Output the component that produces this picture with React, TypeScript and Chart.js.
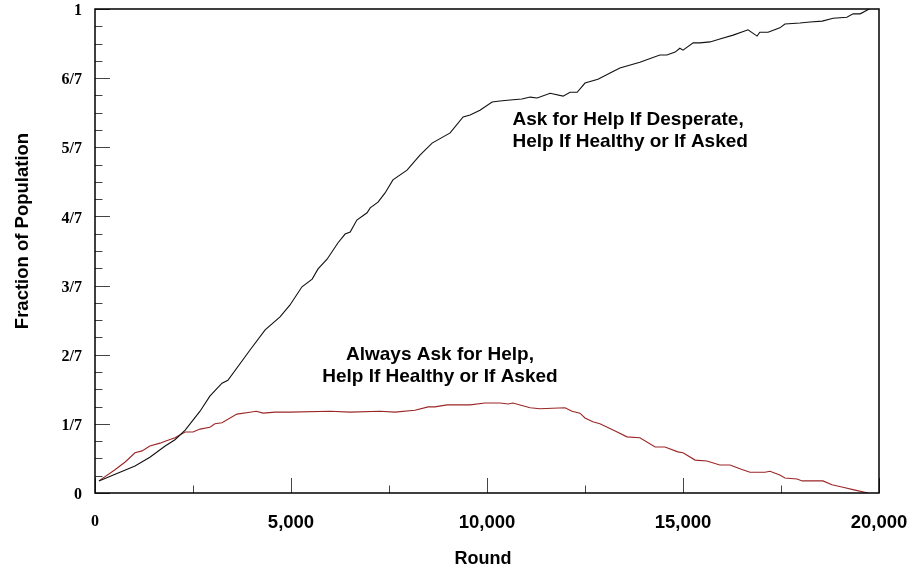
import { useEffect, useRef } from "react";
import { Chart, registerables } from "chart.js";

Chart.register(...registerables);

// ---- Data ----
const desperateRounds = [100, 1020, 1400, 1790, 2040, 2300, 2680, 2930, 3240, 3390, 3950, 4340, 4720, 4970, 5280, 5540, 5690, 5920, 6200, 6380, 6510, 6680, 6940, 7020, 7220, 7400, 7600, 7960, 8290, 8600, 9060, 9390, 9570, 9820, 10130, 10330, 10590, 10890, 11100, 11280, 11610, 11940, 12120, 12300, 12500, 12830, 13190, 13390, 13900, 14410, 14590, 14800, 14920, 15000, 15260, 15430, 15690, 15940, 16280, 16660, 16890, 16960, 17170, 17470, 17600, 17980, 18240, 18550, 18830, 19180, 19340, 19520, 19750];
const desperateValues = [0.025, 0.056, 0.074, 0.097, 0.110, 0.130, 0.169, 0.200, 0.227, 0.233, 0.295, 0.337, 0.364, 0.388, 0.426, 0.442, 0.463, 0.483, 0.517, 0.535, 0.539, 0.564, 0.579, 0.589, 0.601, 0.620, 0.647, 0.667, 0.698, 0.723, 0.744, 0.777, 0.781, 0.791, 0.808, 0.810, 0.812, 0.814, 0.818, 0.816, 0.826, 0.820, 0.828, 0.828, 0.847, 0.855, 0.870, 0.878, 0.890, 0.905, 0.905, 0.911, 0.919, 0.915, 0.930, 0.930, 0.932, 0.938, 0.946, 0.957, 0.944, 0.952, 0.952, 0.961, 0.969, 0.971, 0.973, 0.975, 0.981, 0.983, 0.990, 0.990, 1.0];

const alwaysRounds = [100, 510, 770, 1020, 1200, 1400, 1660, 1790, 2040, 2300, 2500, 2680, 2930, 3060, 3240, 3620, 3950, 4110, 4290, 4590, 4970, 6000, 6510, 7270, 7650, 8160, 8500, 8670, 8980, 9570, 9950, 10330, 10540, 10660, 11100, 11350, 11990, 12170, 12370, 12500, 12700, 12880, 13270, 13570, 13900, 14290, 14540, 14870, 15000, 15310, 15610, 15940, 16200, 16450, 16710, 17090, 17220, 17470, 17600, 17910, 18040, 18570, 18800, 19080, 19390, 19720];
const alwaysValues = [0.025, 0.048, 0.064, 0.083, 0.087, 0.097, 0.103, 0.107, 0.114, 0.126, 0.126, 0.132, 0.136, 0.143, 0.145, 0.163, 0.167, 0.169, 0.165, 0.167, 0.167, 0.169, 0.167, 0.169, 0.167, 0.171, 0.178, 0.178, 0.182, 0.182, 0.186, 0.186, 0.184, 0.186, 0.176, 0.174, 0.176, 0.169, 0.165, 0.155, 0.147, 0.143, 0.128, 0.116, 0.114, 0.095, 0.095, 0.085, 0.083, 0.068, 0.066, 0.058, 0.058, 0.050, 0.043, 0.043, 0.045, 0.037, 0.031, 0.029, 0.025, 0.025, 0.017, 0.012, 0.006, 0.0];

const yTickLabels = ["0", "1/7", "2/7", "3/7", "4/7", "5/7", "6/7", "1"];
const yMinorPerMajor = 4;
const yTickValues = Array.from({ length: (yTickLabels.length - 1) * yMinorPerMajor + 1 }, (_, i) => i / ((yTickLabels.length - 1) * yMinorPerMajor));

const xTickValues = [0, 2500, 5000, 7500, 10000, 12500, 15000, 17500, 20000];
const xLabelValues = [0, 5000, 10000, 15000, 20000];
const xTickLabels = ["0", "5,000", "10,000", "15,000", "20,000"];

const xTitle = "Round";
const yTitle = "Fraction of Population";

const annotations = [
  { round: 10650, value: 0.76, align: "left", lines: ["Ask for Help If Desperate,", "Help If Healthy or If Asked"] },
  { round: 8800, value: 0.275, align: "center", lines: ["Always Ask for Help,", "Help If Healthy or If Asked"] },
];

const SANS = '"Liberation Sans", Arial, Helvetica, sans-serif';
const SERIF = '"Liberation Serif", "Times New Roman", serif';

const framePlugin = {
  id: "framePlugin",
  afterDraw(chart: any) {
    const { ctx, chartArea, scales } = chart;
    const { left, right, top, bottom } = chartArea;
    const xs = scales.x;
    const ys = scales.y;
    ctx.save();

    // inward ticks
    ctx.strokeStyle = "#444";
    ctx.lineWidth = 1;
    yTickValues.forEach((v, i) => {
      const py = Math.round(ys.getPixelForValue(v)) + 0.5;
      const len = i % yMinorPerMajor === 0 ? 15 : 7.5;
      ctx.beginPath();
      ctx.moveTo(left, py);
      ctx.lineTo(left + len, py);
      ctx.stroke();
    });
    xTickValues.forEach((v) => {
      const px = Math.round(xs.getPixelForValue(v)) + 0.5;
      const len = v % 5000 === 0 ? 15 : 7.5;
      ctx.beginPath();
      ctx.moveTo(px, bottom);
      ctx.lineTo(px, bottom - len);
      ctx.stroke();
    });

    // frame
    ctx.strokeStyle = "#000";
    ctx.lineWidth = 1.5;
    ctx.strokeRect(left, top, right - left, bottom - top);

    // x tick labels
    ctx.fillStyle = "#000";
    ctx.textBaseline = "alphabetic";
    xLabelValues.forEach((v, i) => {
      const px = xs.getPixelForValue(v);
      const text = xTickLabels[i];
      if (i === 0) {
        ctx.font = `bold 16px ${SERIF}`;
        ctx.textAlign = "center";
        ctx.fillText(text, px, bottom + 33);
        return;
      }
      ctx.font = `bold 18.5px ${SANS}`;
      const w = ctx.measureText(text).width;
      if (px + w / 2 > chart.width - 3) {
        ctx.textAlign = "right";
        ctx.fillText(text, chart.width - 3, bottom + 35);
      } else {
        ctx.textAlign = "center";
        ctx.fillText(text, px, bottom + 35);
      }
    });

    // axis titles
    ctx.font = `bold 18px ${SANS}`;
    ctx.textAlign = "center";
    ctx.fillText(xTitle, (left + right) / 2 - 4, bottom + 71);
    ctx.save();
    ctx.translate(28, (top + bottom) / 2 - 20);
    ctx.rotate(-Math.PI / 2);
    ctx.font = `bold 18.5px ${SANS}`;
    ctx.fillText(yTitle, 0, 0);
    ctx.restore();

    // annotations
    ctx.font = `bold 19px ${SANS}`;
    annotations.forEach((a) => {
      const px = xs.getPixelForValue(a.round);
      const py = ys.getPixelForValue(a.value);
      ctx.textAlign = a.align as CanvasTextAlign;
      a.lines.forEach((line, k) => {
        ctx.fillText(line, px, py + k * 22);
      });
    });

    ctx.restore();
  },
};

export default function App() {
  const canvasRef = useRef<HTMLCanvasElement | null>(null);

  useEffect(() => {
    const canvas = canvasRef.current;
    if (!canvas) return;
    const chart = new Chart(canvas, {
      type: "line",
      data: {
        datasets: [
          {
            label: "Ask for Help If Desperate, Help If Healthy or If Asked",
            data: desperateRounds.map((r, i) => ({ x: r, y: desperateValues[i] })),
            borderColor: "#111",
            borderWidth: 1.1,
            pointRadius: 0,
            tension: 0,
            fill: false,
          },
          {
            label: "Always Ask for Help, Help If Healthy or If Asked",
            data: alwaysRounds.map((r, i) => ({ x: r, y: alwaysValues[i] })),
            borderColor: "#9b2626",
            borderWidth: 1.1,
            pointRadius: 0,
            tension: 0,
            fill: false,
          },
        ],
      },
      options: {
        responsive: false,
        animation: false,
        devicePixelRatio: 1,
        layout: { padding: { left: 0, top: 9, right: 43, bottom: 0 } },
        plugins: {
          legend: { display: false },
          tooltip: { enabled: false },
          title: { display: false },
        },
        scales: {
          x: {
            type: "linear",
            min: 0,
            max: 20000,
            afterBuildTicks: (s: any) => {
              s.ticks = xTickValues.map((v) => ({ value: v }));
            },
            afterFit: (s: any) => {
              s.height = 76;
              s.paddingLeft = 0;
              s.paddingRight = 0;
            },
            grid: { display: false, drawTicks: false },
            border: { display: false },
            ticks: { display: false },
          },
          y: {
            type: "linear",
            min: 0,
            max: 1,
            afterBuildTicks: (s: any) => {
              s.ticks = yTickValues.map((v) => ({ value: v }));
            },
            afterFit: (s: any) => {
              s.width = 95;
              s.paddingTop = 0;
              s.paddingBottom = 0;
            },
            grid: { display: false, drawTicks: false },
            border: { display: false },
            ticks: {
              autoSkip: false,
              padding: 13,
              labelOffset: 2,
              color: "#000",
              font: { family: SERIF, size: 16, weight: "bold" },
              callback: (_v: any, i: number) => (i % yMinorPerMajor === 0 ? yTickLabels[i / yMinorPerMajor] : ""),
            },
          },
        },
      },
      plugins: [framePlugin],
    } as any);
    return () => chart.destroy();
  }, []);

  return (
    <div style={{ position: "absolute", left: 0, top: 0, width: 922, height: 569, background: "#fff" }}>
      <canvas ref={canvasRef} width={922} height={569} />
    </div>
  );
}
